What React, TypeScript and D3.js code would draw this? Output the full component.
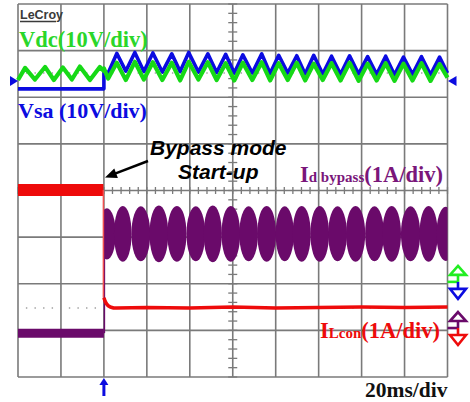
import React from 'react';
import * as d3 from 'd3';

// time in ms (20ms/div), levels in screen divisions (-4..4)
const preTimes = [0, 3.3, 7.9, 12.6, 16.7, 20.9, 25.1, 28.8, 33.5, 38.1, 40];
const vdcPre = [2.37, 2.63, 2.38, 2.65, 2.37, 2.64, 2.38, 2.66, 2.37, 2.65, 2.56];
const vsaPreLevel = 2.18;

const postTimes = [40, 42, 46.0, 50.2, 54.4, 58.6, 62.8, 67.2, 71.6, 75.5, 79.5, 84.0, 88.4, 92.5, 96.7, 100.7,
  104.7, 109.1, 113.5, 117.4, 121.4, 125.6, 129.8, 133.7, 137.7, 141.9, 146.0, 150.2, 154.4, 158.6, 162.8,
  167.0, 171.2, 175.3, 179.5, 183.7, 187.9, 192.1, 196.3, 200];
const vdcPost = [2.62, 2.40, 2.74, 2.37, 2.76, 2.38, 2.75, 2.37, 2.74, 2.36,
  2.76, 2.38, 2.75, 2.37, 2.73, 2.36, 2.74, 2.37, 2.75, 2.36,
  2.73, 2.37, 2.74, 2.36, 2.72, 2.37, 2.73, 2.36, 2.74, 2.35,
  2.72, 2.36, 2.73, 2.35, 2.72, 2.36, 2.73, 2.35, 2.71, 2.42];
const vsaPost = [2.55, 2.52, 2.94, 2.56, 2.96, 2.55, 2.95, 2.54, 2.93, 2.55,
  2.96, 2.54, 2.93, 2.53, 2.92, 2.52, 2.91, 2.52, 2.93, 2.51,
  2.90, 2.52, 2.89, 2.50, 2.90, 2.50, 2.88, 2.49, 2.89, 2.50,
  2.87, 2.49, 2.88, 2.48, 2.86, 2.49, 2.87, 2.48, 2.86, 2.52];

// inductor current
const ilPreLevel = 0.01;
const ilTimes = [40, 40.6, 41.2, 42, 43, 44.5, 46, 60, 80, 100, 120, 140, 160, 180, 200];
const ilPost = [-2.3, -2.38, -2.43, -2.47, -2.5, -2.52, -2.52, -2.51, -2.52, -2.5, -2.52, -2.51, -2.5, -2.51, -2.5];

// bypass diode current
const idPreLevel = -3.06;
const idCenter = -0.93;
const lobeTimes = [41.4, 48.8, 57.2, 65.6, 74.0, 82.8, 90.7, 99.1, 107.4, 115.8, 124.2, 132.1, 140.5, 148.8,
  157.2, 166.0, 174.0, 182.8, 191.2, 199.1];
const lobeAmps = [0.55, 0.6, 0.59, 0.61, 0.6, 0.59, 0.61, 0.6, 0.59, 0.6, 0.59, 0.6, 0.6, 0.59, 0.6, 0.59,
  0.6, 0.59, 0.6, 0.58];

const startTime = 40;
const refLevels = [2.52, -2.52];

const GREEN = '#16d916';
const BLUE = '#0b0be0';
const RED = '#ee0b0b';
const PURPLE = '#6a0a6a';
const GRID = '#7a7a7a';
const SERIF = '"Liberation Serif", "Times New Roman", serif';
const SANS = '"Liberation Sans", Arial, sans-serif';

export default function App() {
  const x = d3.scaleLinear().domain([0, 200]).range([18, 447.5]);
  const y = d3.scaleLinear().domain([-4, 4]).range([377, 4]);
  const line = d3.line<[number, number]>().x(d => x(d[0])).y(d => y(d[1]));

  const vdcPts: [number, number][] = [
    ...preTimes.map((t, i) => [t, vdcPre[i]] as [number, number]),
    ...postTimes.map((t, i) => [t, vdcPost[i]] as [number, number]),
  ];
  const vsaPts: [number, number][] = [
    [0, vsaPreLevel], [startTime, vsaPreLevel],
    ...postTimes.map((t, i) => [t, vsaPost[i]] as [number, number]),
  ];
  const ilPts = ilTimes.map((t, i) => [t, ilPost[i]] as [number, number]);

  const xTicks = d3.range(0, 201, 20);
  const yTicks = d3.range(-4, 5, 1);
  const minorX = d3.range(0, 200.01, 4);
  const minorY = d3.range(-4, 4.01, 0.2);
  const x0 = x(0), x1 = x(200), yTop = y(4), yBot = y(-4);
  const xs = x(startTime);

  const marker = (cy: number, up: string, down: string) => {
    const cx = 458;
    return (
      <g strokeWidth={2.6} fill="#fff" strokeLinejoin="miter">
        <line x1={447.5} x2={cx} y1={cy} y2={cy} stroke={up} />
        <line x1={cx} x2={cx} y1={cy} y2={cy - 7} stroke={up} />
        <polygon points={`${cx},${cy - 16} ${cx + 8},${cy - 7} ${cx - 8},${cy - 7}`} stroke={up} />
        <line x1={cx} x2={cx} y1={cy} y2={cy + 7} stroke={down} />
        <polygon points={`${cx},${cy + 17} ${cx + 8},${cy + 7} ${cx - 8},${cy + 7}`} stroke={down} />
      </g>
    );
  };

  const gLeft = y(2.35);

  return (
    <svg width={470} height={402} style={{ position: 'absolute', left: 0, top: 0, background: '#fff' }}>
      <defs>
        <clipPath id="post">
          <rect x={xs} y={yTop} width={x1 - xs} height={yBot - yTop} />
        </clipPath>
      </defs>

      {/* grid */}
      <g stroke={GRID} strokeWidth={1.6}>
        {xTicks.map(t => <line key={'v' + t} x1={x(t)} x2={x(t)} y1={yTop} y2={yBot} />)}
        {yTicks.map(v => <line key={'h' + v} x1={x0} x2={x1} y1={y(v)} y2={y(v)} />)}
      </g>
      <g stroke={GRID} strokeWidth={1.3}>
        {minorX.map(t => <line key={'mx' + t} x1={x(t)} x2={x(t)} y1={y(0) - 3.5} y2={y(0) + 3.5} />)}
        {minorY.map(v => <line key={'my' + v} x1={x(100) - 4.5} x2={x(100) + 4.5} y1={y(v)} y2={y(v)} />)}
      </g>
      <g fill="#999">
        {refLevels.map(lv => minorX.filter(t => t % 20 !== 0).map(t => (
          <rect key={lv + '-' + t} x={x(t) - 0.7} y={y(lv) - 0.7} width={1.4} height={1.4} />
        )))}
      </g>

      {/* LeCroy logo */}
      <text x={20} y={18.5} fontFamily={SANS} fontWeight="bold" fontSize={12.5} fill="#3a3a3a">LeCroy</text>
      <line x1={20} x2={56} y1={21.5} y2={21.5} stroke="#3a3a3a" strokeWidth={1.3} />

      {/* Vsa and Vdc */}
      <path d={line(vsaPts) || ''} fill="none" stroke={BLUE} strokeWidth={3.6} strokeLinejoin="round" />
      <path d={line(vdcPts) || ''} fill="none" stroke={GREEN} strokeWidth={4.2} strokeLinejoin="round" />

      {/* Id bypass */}
      <line x1={x0} x2={xs} y1={y(idPreLevel)} y2={y(idPreLevel)} stroke={PURPLE} strokeWidth={9} />
      <line x1={xs + 0.5} x2={xs + 0.5} y1={y(idPreLevel)} y2={y(idCenter)} stroke={PURPLE} strokeWidth={1.5} />
      <g clipPath="url(#post)" fill={PURPLE}>
        {lobeTimes.map((t, i) => {
          const prev = i > 0 ? lobeTimes[i - 1] : t - 8.4;
          const next = i < lobeTimes.length - 1 ? lobeTimes[i + 1] : t + 8.4;
          const rx = 0.52 * (x(next) - x(prev)) / 2;
          return (
            <ellipse key={t} cx={x(t)} cy={y(idCenter)} rx={rx} ry={y(idCenter) - y(idCenter + lobeAmps[i])} />
          );
        })}
      </g>

      {/* IL con */}
      <line x1={x0} x2={xs - 0.5} y1={y(ilPreLevel)} y2={y(ilPreLevel)} stroke={RED} strokeWidth={12} />
      <line x1={xs - 0.5} x2={xs - 0.5} y1={y(ilPreLevel)} y2={y(ilPost[0])} stroke="#f05050" strokeWidth={1.5} />
      <path d={line(ilPts) || ''} fill="none" stroke={RED} strokeWidth={3.6} strokeLinejoin="round" />

      {/* channel markers */}
      <polygon points={`${x0},${gLeft} ${x0 - 8},${gLeft - 5} ${x0 - 8},${gLeft + 5}`} fill={BLUE} />
      <polygon points={`${x1 + 0.5},${gLeft} ${x1 + 9},${gLeft - 5} ${x1 + 9},${gLeft + 5}`} fill={BLUE} />
      {marker(y(-1.96), '#22ee22', BLUE)}
      {marker(y(-2.95), PURPLE, RED)}
      <line x1={xs} x2={xs} y1={yBot + 6} y2={yBot + 19} stroke={BLUE} strokeWidth={3} />
      <polygon points={`${xs},${yBot + 1} ${xs + 4.5},${yBot + 8} ${xs - 4.5},${yBot + 8}`} fill={BLUE} />

      {/* labels */}
      <text x={19} y={47} fontFamily={SERIF} fontWeight="bold" fontSize={22.5} fill="#2ad62a">Vdc(10V/div)</text>
      <text x={18} y={118} fontFamily={SERIF} fontWeight="bold" fontSize={22} fill={BLUE}>Vsa (10V/div)</text>
      <text x={300} y={182} fontFamily={SERIF} fontWeight="bold" fontSize={22.5} fill="#7a167a">
        I<tspan fontSize={15}>d bypass</tspan>(1A/div)
      </text>
      <text x={320} y={338} fontFamily={SERIF} fontWeight="bold" fontSize={22.5} fill={RED}>
        I<tspan fontSize={15}>Lcon</tspan>(1A/div)
      </text>
      <text x={365} y={397} fontFamily={SERIF} fontWeight="bold" fontSize={21.5} fill="#111">20ms/div</text>

      <text fontFamily={SANS} fontWeight="bold" fontStyle="italic" fontSize={21} fill="#000">
        <tspan x={150} y={155}>Bypass mode</tspan>
        <tspan x={178} y={179}>Start-up</tspan>
      </text>
      <line x1={148} y1={161} x2={115} y2={173.7} stroke="#000" strokeWidth={2.5} />
      <polygon points="105,177.5 117.9,178 114.3,168.6" fill="#000" />
    </svg>
  );
}
